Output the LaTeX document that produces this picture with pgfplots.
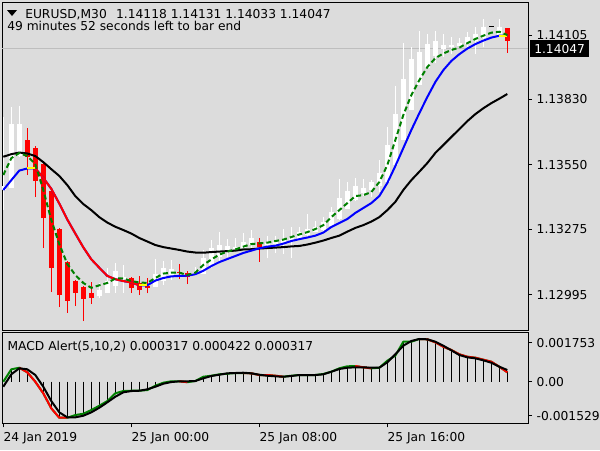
\documentclass[border=0pt]{standalone}
\usepackage{fontspec}
\setmainfont{DejaVu Sans}
\usepackage{pgfplots}
\usepackage{pgfplotstable}
\pgfplotsset{compat=1.18}

\definecolor{bg}{RGB}{220,220,220}
\definecolor{mtgreen}{RGB}{0,128,0}
\definecolor{mtblue}{RGB}{0,0,255}
\definecolor{mtred}{RGB}{255,0,0}
\definecolor{mtyellow}{RGB}{255,255,0}
\definecolor{bidgray}{RGB}{190,190,190}
\newcommand{\mtfont}{\fontsize{9.2}{11}\selectfont}

% Heiken Ashi bars: index, open, high, low, close
\pgfplotstableread{
i o h l c
0 1.13443 1.13754 1.13357 1.13460
1 1.13451 1.13797 1.13451 1.13725
2 1.13588 1.13801 1.13584 1.13725
12 1.12992 1.13046 1.12982 1.13016
13 1.13004 1.13110 1.13003 1.13054
14 1.13031 1.13131 1.13003 1.13097
15 1.13064 1.13122 1.13003 1.13071
19 1.13029 1.13147 1.13029 1.13084
20 1.13056 1.13141 1.13037 1.13108
21 1.13082 1.13144 1.13058 1.13104
24 1.13080 1.13114 1.13076 1.13086
25 1.13083 1.13187 1.13083 1.13151
26 1.13117 1.13229 1.13110 1.13194
27 1.13155 1.13265 1.13137 1.13208
28 1.13181 1.13232 1.13158 1.13204
29 1.13193 1.13239 1.13187 1.13201
30 1.13196 1.13258 1.13187 1.13222
31 1.13209 1.13272 1.13194 1.13237
33 1.13210 1.13246 1.13151 1.13218
34 1.13214 1.13246 1.13175 1.13221
35 1.13217 1.13276 1.13169 1.13229
36 1.13223 1.13286 1.13151 1.13243
37 1.13234 1.13286 1.13229 1.13265
38 1.13249 1.13340 1.13237 1.13275
39 1.13262 1.13312 1.13262 1.13283
40 1.13273 1.13326 1.13265 1.13305
41 1.13289 1.13369 1.13289 1.13350
42 1.13319 1.13488 1.13315 1.13407
43 1.13363 1.13478 1.13362 1.13438
44 1.13401 1.13495 1.13397 1.13460
45 1.13430 1.13490 1.13417 1.13451
46 1.13441 1.13485 1.13413 1.13477
47 1.13459 1.13571 1.13435 1.13517
48 1.13478 1.13713 1.13478 1.13635
49 1.13549 1.13887 1.13549 1.13767
50 1.13656 1.14073 1.13656 1.13915
51 1.13784 1.14052 1.13784 1.14002
52 1.13891 1.14123 1.13891 1.14031
53 1.13962 1.14109 1.13962 1.14066
54 1.14014 1.14123 1.13984 1.14079
55 1.14046 1.14109 1.14012 1.14062
56 1.14053 1.14095 1.14026 1.14063
57 1.14058 1.14091 1.14048 1.14072
58 1.14065 1.14119 1.14052 1.14095
59 1.14080 1.14140 1.14026 1.14109
60 1.14094 1.14172 1.14052 1.14140
62 1.14105 1.14172 1.14097 1.14140
}\whitebars

\pgfplotstableread{
i o h l c
3 1.13656 1.13707 1.13507 1.13584
4 1.13622 1.13631 1.13413 1.13481
5 1.13552 1.13558 1.13195 1.13323
6 1.13438 1.13443 1.13007 1.13110
7 1.13276 1.13280 1.12943 1.12994
8 1.13135 1.13140 1.12918 1.12969
9 1.13054 1.13058 1.12947 1.13003
10 1.13029 1.13033 1.12883 1.12977
11 1.13003 1.13050 1.12956 1.12983
16 1.13068 1.13071 1.13004 1.13023
17 1.13046 1.13076 1.12994 1.13014
18 1.13031 1.13066 1.13001 1.13026
22 1.13093 1.13127 1.13063 1.13087
23 1.13090 1.13098 1.13041 1.13070
32 1.13223 1.13237 1.13137 1.13198
63 1.14133 1.14133 1.14029 1.14080
}\redbars

\pgfplotstableread{
i o h l c
61 1.14141 1.14145 1.14141 1.14145
}\dojibar

% moving averages: b = medium (blue/red), g = fast (green), k = slow (black)
\pgfplotstableread{
i b g k
0 1.13443 1.13507 1.13585
1 1.13485 1.13579 1.13596
2 1.13526 1.13601 1.13603
3 1.13535 1.13588 1.13599
4 1.13535 1.13554 1.13588
5 1.13495 1.13443 1.13562
6 1.13448 1.13315 1.13532
7 1.13385 1.13212 1.13503
8 1.13317 1.13127 1.13464
9 1.13257 1.13080 1.13417
10 1.13198 1.13046 1.13383
11 1.13147 1.13025 1.13357
12 1.13111 1.13036 1.13327
13 1.13076 1.13046 1.13304
14 1.13062 1.13065 1.13286
15 1.13054 1.13065 1.13272
16 1.13048 1.13054 1.13257
17 1.13036 1.13048 1.13238
18 1.13036 1.13046 1.13223
19 1.13056 1.13067 1.13208
20 1.13067 1.13086 1.13199
21 1.13074 1.13090 1.13193
22 1.13076 1.13090 1.13187
23 1.13077 1.13080 1.13180
24 1.13083 1.13090 1.13176
25 1.13098 1.13123 1.13175
26 1.13118 1.13146 1.13178
27 1.13135 1.13167 1.13180
28 1.13148 1.13180 1.13182
29 1.13161 1.13189 1.13184
30 1.13174 1.13201 1.13189
31 1.13184 1.13212 1.13190
32 1.13194 1.13215 1.13193
33 1.13201 1.13218 1.13195
34 1.13205 1.13225 1.13197
35 1.13214 1.13231 1.13199
36 1.13225 1.13242 1.13202
37 1.13233 1.13253 1.13204
38 1.13240 1.13263 1.13210
39 1.13248 1.13276 1.13218
40 1.13261 1.13293 1.13227
41 1.13285 1.13327 1.13238
42 1.13302 1.13357 1.13248
43 1.13319 1.13387 1.13265
44 1.13345 1.13417 1.13281
45 1.13366 1.13421 1.13293
46 1.13387 1.13434 1.13308
47 1.13417 1.13477 1.13327
48 1.13473 1.13549 1.13357
49 1.13545 1.13656 1.13392
50 1.13622 1.13763 1.13443
51 1.13699 1.13848 1.13485
52 1.13771 1.13912 1.13521
53 1.13840 1.13968 1.13558
54 1.13904 1.14006 1.13601
55 1.13955 1.14026 1.13635
56 1.13994 1.14041 1.13669
57 1.14023 1.14051 1.13703
58 1.14047 1.14070 1.13737
59 1.14066 1.14088 1.13767
60 1.14081 1.14102 1.13792
61 1.14094 1.14115 1.13814
62 1.14102 1.14119 1.13833
63 1.14102 1.14105 1.13853
}\ma

% MACD: h = main (histogram and coloured line), s = signal
\pgfplotstableread{
i h s
0 0.000000 -0.000225
1 0.000558 0.000333
2 0.000630 0.000603
3 0.000423 0.000558
4 0.000000 0.000302
5 -0.000522 -0.000225
6 -0.001197 -0.000869
7 -0.001620 -0.001377
8 -0.001620 -0.001602
9 -0.001499 -0.001602
10 -0.001440 -0.001530
11 -0.001274 -0.001377
12 -0.001080 -0.001170
13 -0.000869 -0.000927
14 -0.000522 -0.000675
15 -0.000419 -0.000477
16 -0.000405 -0.000419
17 -0.000405 -0.000405
18 -0.000374 -0.000342
19 -0.000180 -0.000225
20 -0.000045 -0.000090
21 0.000020 -0.000014
22 0.000020 0.000018
23 -0.000020 0.000018
24 0.000032 0.000032
25 0.000225 0.000153
26 0.000270 0.000257
27 0.000333 0.000315
28 0.000360 0.000378
29 0.000392 0.000392
30 0.000392 0.000405
31 0.000378 0.000378
32 0.000302 0.000315
33 0.000302 0.000270
34 0.000270 0.000243
35 0.000225 0.000225
36 0.000270 0.000257
37 0.000302 0.000302
38 0.000302 0.000302
39 0.000302 0.000302
40 0.000347 0.000333
41 0.000450 0.000450
42 0.000603 0.000572
43 0.000693 0.000630
44 0.000707 0.000648
45 0.000648 0.000648
46 0.000603 0.000630
47 0.000630 0.000630
48 0.000945 0.000873
49 0.001170 0.001233
50 0.001800 0.001620
51 0.001800 0.001832
52 0.001922 0.001922
53 0.001908 0.001908
54 0.001773 0.001800
55 0.001575 0.001620
56 0.001427 0.001413
57 0.001233 0.001202
58 0.001125 0.001098
59 0.001080 0.001053
60 0.000990 0.000963
61 0.000900 0.000855
62 0.000675 0.000675
63 0.000423 0.000527
}\macd

\pgfplotsset{
  mtaxis/.style={
    scale only axis, width=394.5pt,
    xmin=-0.1625, xmax=65.5875,
    axis line style={black, line width=0.75pt},
    tick style={black, line width=0.75pt},
    major tick length=3pt, tick align=outside,
    ytick pos=right, yticklabel pos=right,
    scaled ticks=false,
    tick label style={font=\mtfont},
    /pgf/number format/assume math mode=true,
    clip mode=individual,
  },
  wick/.style={draw=none, mark=none, forget plot,
    error bars/.cd, y dir=plus, y explicit, error mark=none,
    error bar style={draw=#1, line width=0.75pt}},
  body/.style={draw=none, mark=none, forget plot,
    error bars/.cd, y dir=plus, y explicit, error mark=none,
    error bar style={draw=#1, line width=3.75pt}},
  maline/.style={line width=1.5pt, line join=round, mark=none},
}

\begin{document}
\begin{tikzpicture}
\useasboundingbox (0,0) rectangle (450pt,-337.5pt);
\fill[bg] (0,0) rectangle (450pt,-337.5pt);

% price panel
\begin{axis}[mtaxis, at={(1.5pt,-1.5pt)}, anchor=north west, height=246pt,
  ymin=1.12845, ymax=1.14246, xtick=\empty,
  ytick={1.12995,1.13275,1.13550,1.13830,1.14105},
  yticklabels={1.12995,1.13275,1.13550,1.13830,1.14105}]
\addplot[bidgray, line width=0.75pt] coordinates {(-0.1625,1.14047) (65.5875,1.14047)};
\addplot[wick=white] table[x=i, y=l, y error expr=\thisrow{h}-\thisrow{l}] {\whitebars};
\addplot[wick=mtred] table[x=i, y=l, y error expr=\thisrow{h}-\thisrow{l}] {\redbars};
\addplot[body=white] table[x=i, y=o, y error expr=\thisrow{c}-\thisrow{o}] {\whitebars};
\addplot[body=mtred] table[x=i, y=c, y error expr=\thisrow{o}-\thisrow{c}] {\redbars};
\addplot[body=black] table[x=i, y=o, y error expr=\thisrow{c}-\thisrow{o}] {\dojibar};
\addplot[maline, black] table[x=i, y=k] {\ma};
\addplot[maline, mtblue] table[x=i, y=b] {\ma};
\addplot[maline, mtred, restrict x to domain=4:17] table[x=i, y=b] {\ma};
\addplot[maline, mtyellow, restrict x to domain=3:4] table[x=i, y=b] {\ma};
\addplot[maline, mtyellow, restrict x to domain=17:18] table[x=i, y=b] {\ma};
\addplot[maline, mtyellow, restrict x to domain=62:63] table[x=i, y=b] {\ma};
\addplot[maline, mtgreen, dash pattern=on 3.75pt off 2.25pt] table[x=i, y=g] {\ma};
\node[fill=black, text=white, font=\mtfont, anchor=west, inner xsep=3pt,
  inner ysep=0pt, minimum height=12.5pt] at (axis cs:65.5875,1.14047) [xshift=1.5pt] {1.14047};
\end{axis}

% MACD panel
\begin{axis}[mtaxis, at={(1.5pt,-249pt)}, anchor=north west, height=68.5pt,
  ymin=-0.001872, ymax=0.0022365,
  xtick={0,16,32,48}, xtick pos=bottom,
  xticklabels={24 Jan 2019,25 Jan 00:00,25 Jan 08:00,25 Jan 16:00},
  xticklabel style={anchor=north west, inner xsep=0pt},
  ytick={-0.001529,0,0.001753},
  yticklabels={-0.001529,0.00,0.001753}]
\addplot[ycomb, black, line width=0.75pt, mark=none] table[x=i, y=h] {\macd};
\addplot[maline, mtgreen] table[x=i, y=h] {\macd};
\addplot[maline, mtred, restrict x to domain=2:8] table[x=i, y=h] {\macd};
\addplot[maline, mtred, restrict x to domain=22:23] table[x=i, y=h] {\macd};
\addplot[maline, mtred, restrict x to domain=30:35] table[x=i, y=h] {\macd};
\addplot[maline, mtred, restrict x to domain=44:46] table[x=i, y=h] {\macd};
\addplot[maline, mtred, restrict x to domain=52:63] table[x=i, y=h] {\macd};
\addplot[maline, black] table[x=i, y=s] {\macd};
\end{axis}

% header texts
\fill[black] (5.25pt,-7.5pt) -- (12.75pt,-7.5pt) -- (9pt,-12pt) -- cycle;
\node[anchor=base west, inner sep=0pt, font=\mtfont] at (18.75pt,-13.7pt)
  {EURUSD,M30\hspace{7pt}1.14118 1.14131 1.14033 1.14047};
\node[anchor=base west, inner sep=0pt, font=\mtfont] at (5.25pt,-23pt)
  {49 minutes 52 seconds left to bar end};
\node[anchor=base west, inner sep=0pt, font=\mtfont] at (5.5pt,-262.5pt)
  {MACD Alert(5,10,2) 0.000317 0.000422 0.000317};
\end{tikzpicture}
\end{document}
